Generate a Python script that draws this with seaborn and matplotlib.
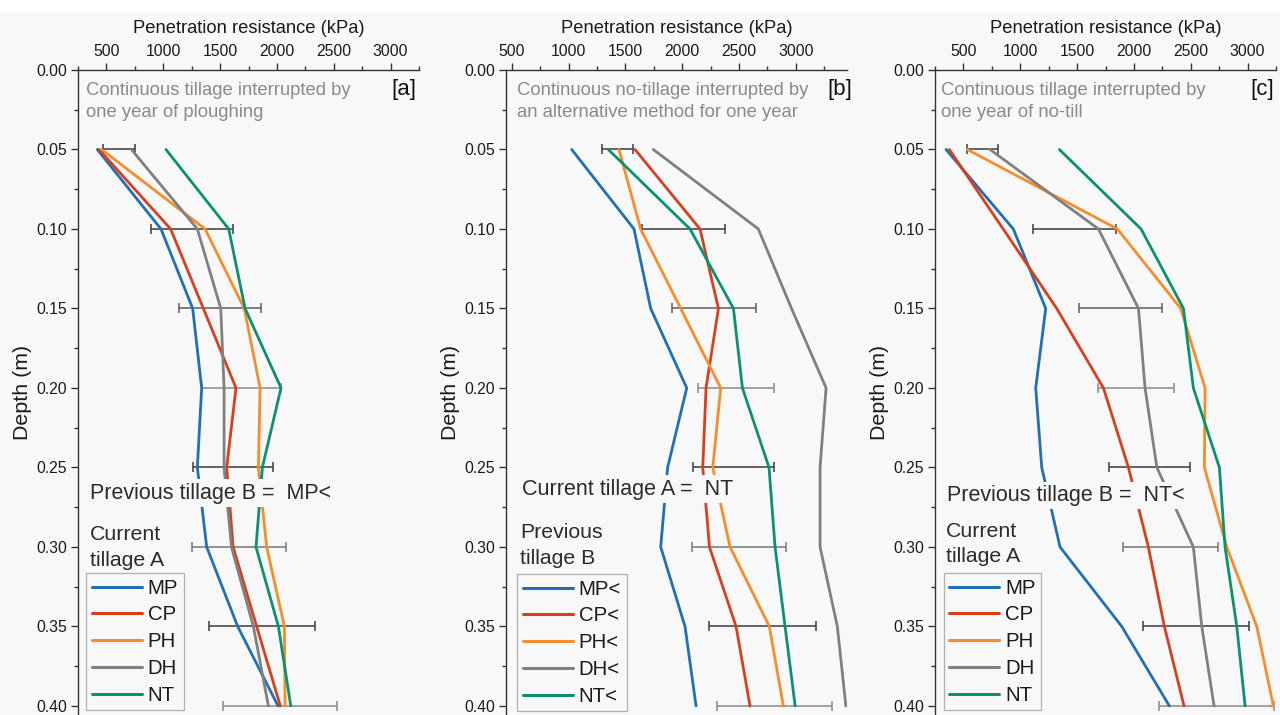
import numpy as np
import pandas as pd
import matplotlib
matplotlib.use("Agg")
import matplotlib.pyplot as plt
from matplotlib.ticker import MultipleLocator, FormatStrFormatter
from matplotlib.patches import Rectangle
import seaborn as sns

# ---------------------------------------------------------------- data
depths = [0.05, 0.10, 0.15, 0.20, 0.25, 0.30, 0.35, 0.40]
treatments = ["MP", "CP", "PH", "DH", "NT"]

# [a] continuous tillage interrupted by one year of ploughing (kPa)
a_MP = [420, 980, 1259, 1338, 1300, 1382, 1655, 2010]
a_CP = [435, 1065, 1353, 1640, 1558, 1615, 1822, 2030]
a_PH = [458, 1368, 1713, 1852, 1837, 1910, 2066, 2072]
a_DH = [720, 1300, 1506, 1535, 1535, 1600, 1793, 1925]
a_NT = [1024, 1576, 1720, 2036, 1872, 1816, 2013, 2122]
a_lo = [473, 890, 1139, 1338, 1265, 1250, 1403, 1523]
a_hi = [752, 1617, 1863, 2036, 1969, 2078, 2336, 2532]

# [b] continuous no-tillage interrupted by an alternative method (kPa)
b_MP = [1028, 1576, 1723, 2040, 1872, 1811, 2025, 2122]
b_CP = [1585, 2157, 2319, 2210, 2181, 2240, 2474, 2597]
b_PH = [1444, 1635, 1987, 2339, 2269, 2421, 2767, 2890]
b_DH = [1746, 2670, 2962, 3266, 3213, 3213, 3365, 3440]
b_NT = [1350, 2069, 2451, 2530, 2764, 2817, 2905, 2994]
b_lo = [1292, 1644, 1913, 2142, 2098, 2084, 2236, 2304]
b_hi = [1570, 2377, 2647, 2811, 2811, 2914, 3175, 3322]

# [c] continuous tillage interrupted by one year of no-till (kPa)
c_MP = [347, 939, 1224, 1136, 1189, 1350, 1893, 2312]
c_CP = [376, 850, 1321, 1732, 1952, 2127, 2268, 2441]
c_PH = [534, 1855, 2412, 2626, 2620, 2817, 3081, 3227]
c_DH = [734, 1688, 2040, 2098, 2202, 2523, 2597, 2705]
c_NT = [1344, 2063, 2436, 2523, 2752, 2802, 2905, 2978]
c_lo = [529, 1110, 1521, 1688, 1784, 1908, 2078, 2224]
c_hi = [802, 1843, 2251, 2356, 2494, 2744, 3016, 3236]

labels_a = ["MP", "CP", "PH", "DH", "NT"]
labels_b = ["MP<", "CP<", "PH<", "DH<", "NT<"]
labels_c = ["MP", "CP", "PH", "DH", "NT"]

# ---------------------------------------------------------------- style
BG = "#f8f8f8"
COLORS = ["#1f70b5", "#d6401f", "#f58d2a", "#808080", "#0a9171"]
BAR_COLORS = ["#3c3c3c", "#3c3c3c", "#5c5c5c", "#8a8a8a",
              "#3c3c3c", "#777777", "#3c3c3c", "#8a8a8a"]

sns.set_style("ticks")
plt.rcParams["font.family"] = ["Liberation Sans", "DejaVu Sans"]
plt.rcParams["axes.facecolor"] = BG

W, H = 1280, 715
AX_W, AX_TOP = 341, 70
fig = plt.figure(figsize=(W / 100, H / 100), dpi=100, facecolor=BG)
fig.patches.append(Rectangle((0, 1 - 10 / H), 1, 10 / H, color="white",
                             transform=fig.transFigure, zorder=-1))

panels = [
    dict(left=78, xlim=(250, 3250), series=[a_MP, a_CP, a_PH, a_DH, a_NT],
         lo=a_lo, hi=a_hi, labels=labels_a, tag="[a]",
         note="Continuous tillage interrupted by\none year of ploughing",
         header="Previous tillage B =  MP<", legtitle="Current\ntillage A",
         note_x=8, tag_x=338.7, head_xy=(12, 493), title_xy=(12, 547.5),
         leg_xy=(8, 573.2)),
    dict(left=506, xlim=(450, 3450), series=[b_MP, b_CP, b_PH, b_DH, b_NT],
         lo=b_lo, hi=b_hi, labels=labels_b, tag="[b]",
         note="Continuous no-tillage interrupted by\nan alternative method for one year",
         header="Current tillage A =  NT", legtitle="Previous\ntillage B",
         note_x=11.3, tag_x=346.7, head_xy=(15.7, 489), title_xy=(14, 545.5),
         leg_xy=(11, 574.2)),
    dict(left=935, xlim=(250, 3250), series=[c_MP, c_CP, c_PH, c_DH, c_NT],
         lo=c_lo, hi=c_hi, labels=labels_c, tag="[c]",
         note="Continuous tillage interrupted by\none year of no-till",
         header="Previous tillage B =  NT<", legtitle="Current\ntillage A",
         note_x=5.7, tag_x=339, head_xy=(11.7, 495.7), title_xy=(11, 544),
         leg_xy=(8.5, 573.2)),
]

ax_h = H - AX_TOP


def fy(py):
    """Pixel row (from top of figure) to axes fraction."""
    return (H - py) / ax_h


for p in panels:
    ax = fig.add_axes([p["left"] / W, 0, AX_W / W, ax_h / H])
    ax.set_facecolor(BG)

    rows = []
    for lab, vals in zip(p["labels"], p["series"]):
        for d, v in zip(depths, vals):
            rows.append({"Depth": d, "kPa": v, "Treatment": lab})
    df = pd.DataFrame(rows)

    # LSD bars drawn beneath the profiles
    for d, lo, hi, col in zip(depths, p["lo"], p["hi"], BAR_COLORS):
        ax.errorbar((lo + hi) / 2, d, xerr=(hi - lo) / 2, fmt="none",
                    ecolor=col, elinewidth=1.1, capsize=3.5, capthick=1.1,
                    zorder=2)

    sns.lineplot(data=df, x="kPa", y="Depth", hue="Treatment",
                 hue_order=p["labels"], palette=COLORS, orient="y",
                 estimator=None, linewidth=2.0, ax=ax, zorder=3, legend=True)

    ax.set_xlim(*p["xlim"])
    ax.set_ylim(0.4057, 0.0)
    ax.xaxis.tick_top()
    ax.xaxis.set_label_position("top")
    ax.xaxis.set_minor_locator(MultipleLocator(250))
    ax.yaxis.set_major_locator(MultipleLocator(0.05))
    ax.yaxis.set_minor_locator(MultipleLocator(0.025))
    ax.yaxis.set_major_formatter(FormatStrFormatter("%.2f"))
    ticks = [t for t in range(500, 3001, 500)]
    ax.set_xticks(ticks)
    ax.set_xticklabels([str(t) for t in ticks])

    for side in ("right", "bottom"):
        ax.spines[side].set_visible(False)
    for side in ("left", "top"):
        ax.spines[side].set_color("#333333")
        ax.spines[side].set_linewidth(1.0)
    ax.tick_params(which="major", direction="out", length=5, width=1,
                   color="#333333", labelcolor="#1a1a1a", labelsize=11.3,
                   pad=3)
    ax.tick_params(which="minor", direction="out", length=3, width=1,
                   color="#333333")

    ax.set_xlabel("Penetration resistance (kPa)", fontsize=13.2,
                  color="#1a1a1a", labelpad=8)
    ax.set_ylabel("Depth (m)", fontsize=15.4, color="#1a1a1a", labelpad=3)

    # descriptive note and panel tag
    ax.text(p["note_x"] / AX_W, fy(101.5), p["note"], transform=ax.transAxes,
            ha="left", va="center", fontsize=13.3, color="#8a8a8a",
            linespacing=1.42)
    ax.text(p["tag_x"] / AX_W, fy(90), p["tag"], transform=ax.transAxes,
            ha="right", va="center", fontsize=16, color="#111111")

    # header line that masks the profiles behind it
    hx, hy = p["head_xy"]
    ax.text(hx / AX_W, fy(hy), p["header"], transform=ax.transAxes,
            ha="left", va="center", fontsize=15.5, color="#2b2b2b", zorder=5,
            bbox=dict(boxstyle="square,pad=0.15", facecolor=BG,
                      edgecolor="none"))

    tx, ty = p["title_xy"]
    ax.text(tx / AX_W, fy(ty), p["legtitle"], transform=ax.transAxes,
            ha="left", va="center", fontsize=15.3, color="#2b2b2b",
            linespacing=1.45, zorder=5)

    old = ax.get_legend()
    handles = old.legend_handles
    labels = [t.get_text() for t in old.get_texts()]
    old.remove()
    lx, ly = p["leg_xy"]
    leg = ax.legend(handles, labels, loc="upper left",
                    bbox_to_anchor=(lx / AX_W, fy(ly)), borderaxespad=0,
                    frameon=True, fancybox=False, edgecolor="#b0b0b0",
                    facecolor=BG, framealpha=1, fontsize=14.7,
                    handlelength=2.45, handletextpad=0.3, labelspacing=0.38,
                    borderpad=0.27)
    leg.get_frame().set_linewidth(0.9)
    for h in leg.legend_handles:
        h.set_linewidth(2.2)
    for t in leg.get_texts():
        t.set_color("#1a1a1a")

fig.savefig("out.png", dpi=100, facecolor=BG)
